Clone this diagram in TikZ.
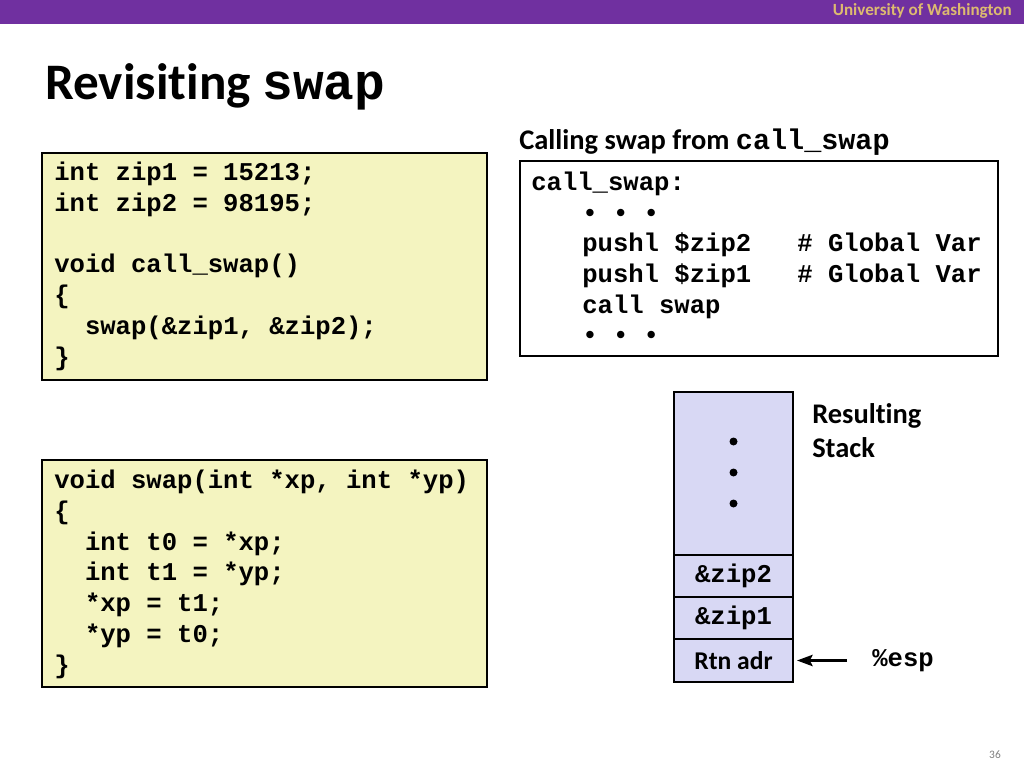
\documentclass[tikz,border=0pt]{standalone}
\usepackage{fontspec}
\setmainfont{Carlito}[Ligatures=NoCommon]
\newfontfamily\codefont{Liberation Mono}
\usetikzlibrary{positioning,arrows.meta}
\definecolor{uwpurple}{RGB}{112,48,160}
\definecolor{uwgold}{RGB}{221,186,112}
\definecolor{codeyellow}{RGB}{244,244,192}
\definecolor{stacklav}{RGB}{216,216,244}
\newdimen\pxu \pxu=0.703125pt

\tikzset{
    codebox/.style={draw=black, line width=0.9pt, fill=codeyellow, anchor=north west, inner sep=0pt, outer sep=0pt},
    codetext/.style={font=\codefont\bfseries\fontsize{18}{21.6}\selectfont, align=left, anchor=base west, inner sep=0pt},
    stackcell/.style={draw=black, line width=1.4pt, fill=stacklav, minimum width=119\pxu, inner sep=0pt, outer sep=0pt},
    espline/.style={line width=1.6pt, -{Stealth[length=11pt, width=8pt, inset=2pt]}, shorten >=4\pxu}
}

\begin{document}
\begin{tikzpicture}[x=1\pxu, y=-1\pxu]
    \useasboundingbox[fill=white] (0,0) rectangle (1024,768);

    % banner and title
    \node[fill=uwpurple, minimum width=1024\pxu, minimum height=24\pxu, anchor=north west, inner sep=0pt] (banner) at (0,0) {};
    \node[anchor=east, inner sep=0pt, text=uwgold, font=\bfseries\fontsize{12}{14}\selectfont] (uw) at (1012,11) {University of Washington};
    \node[anchor=base west, inner sep=0pt, font=\bfseries\fontsize{36}{43}\selectfont] (title) at (45,100) {Revisiting {\codefont swap}};

    % C code boxes (base anchor = last line)
    \node[codebox, minimum width=445\pxu, minimum height=227\pxu] (callbox) at (42,153) {};
    \node[codetext] (callcode) at (54,365) {int zip1 = 15213;\\
        int zip2 = 98195;\\
        \mbox{}\\
        void call\_swap()\\
        \{\\
        ~~swap(\&zip1, \&zip2);\\
        \}};

    \node[codebox, minimum width=445\pxu, minimum height=227\pxu] (swapbox) at (42,460) {};
    \node[codetext] (swapcode) at (54,673) {void swap(int *xp, int *yp)\\
        \{\\
        ~~int t0 = *xp;\\
        ~~int t1 = *yp;\\
        ~~*xp = t1;\\
        ~~*yp = t0;\\
        \}};

    % assembly box
    \node[anchor=base west, inner sep=0pt, font=\bfseries\fontsize{20}{24}\selectfont] (asmtitle) at (519,150) {Calling swap from {\codefont call\_swap}};
    \node[codebox, fill=white, minimum width=478\pxu, minimum height=195\pxu] (asmbox) at (520,161) {};
    \node[codetext] (asmcode) at (531,344) {call\_swap:\\
        \hspace*{51\pxu}• • •\\
        \hspace*{51\pxu}pushl \$zip2~~~\# Global Var\\
        \hspace*{51\pxu}pushl \$zip1~~~\# Global Var\\
        \hspace*{51\pxu}call swap\\
        \hspace*{51\pxu}• • •};

    % resulting stack
    \node[stackcell, minimum height=163\pxu] (top) at (733.5,473.5) {};
    \foreach \dy in {-32,-1,30} {
        \fill (top) ++(0,\dy) circle (4);
    }
    \node[stackcell, minimum height=42\pxu, below=0pt of top, font=\codefont\bfseries\fontsize{18}{21.6}\selectfont] (zipb) {\&zip2};
    \node[stackcell, minimum height=42\pxu, below=0pt of zipb, font=\codefont\bfseries\fontsize{18}{21.6}\selectfont] (zipa) {\&zip1};
    \node[stackcell, minimum height=43\pxu, below=0pt of zipa, font=\bfseries\fontsize{18}{21.6}\selectfont] (rtn) {Rtn adr};

    \node[anchor=base west, inner sep=0pt, align=left, font=\bfseries\fontsize{20}{23.9}\selectfont] (stacklabel) at (812,457) {Resulting\\Stack};
    \node[right=79\pxu of rtn, inner sep=0pt, font=\codefont\bfseries\fontsize{18}{21.6}\selectfont] (esp) {\%esp};
    \draw[espline] ([xshift=-25\pxu]esp.west) -- (rtn.east);

    \node[text=gray, font=\fontsize{8}{10}\selectfont] (pagenum) at (995,755) {36};
\end{tikzpicture}
\end{document}
